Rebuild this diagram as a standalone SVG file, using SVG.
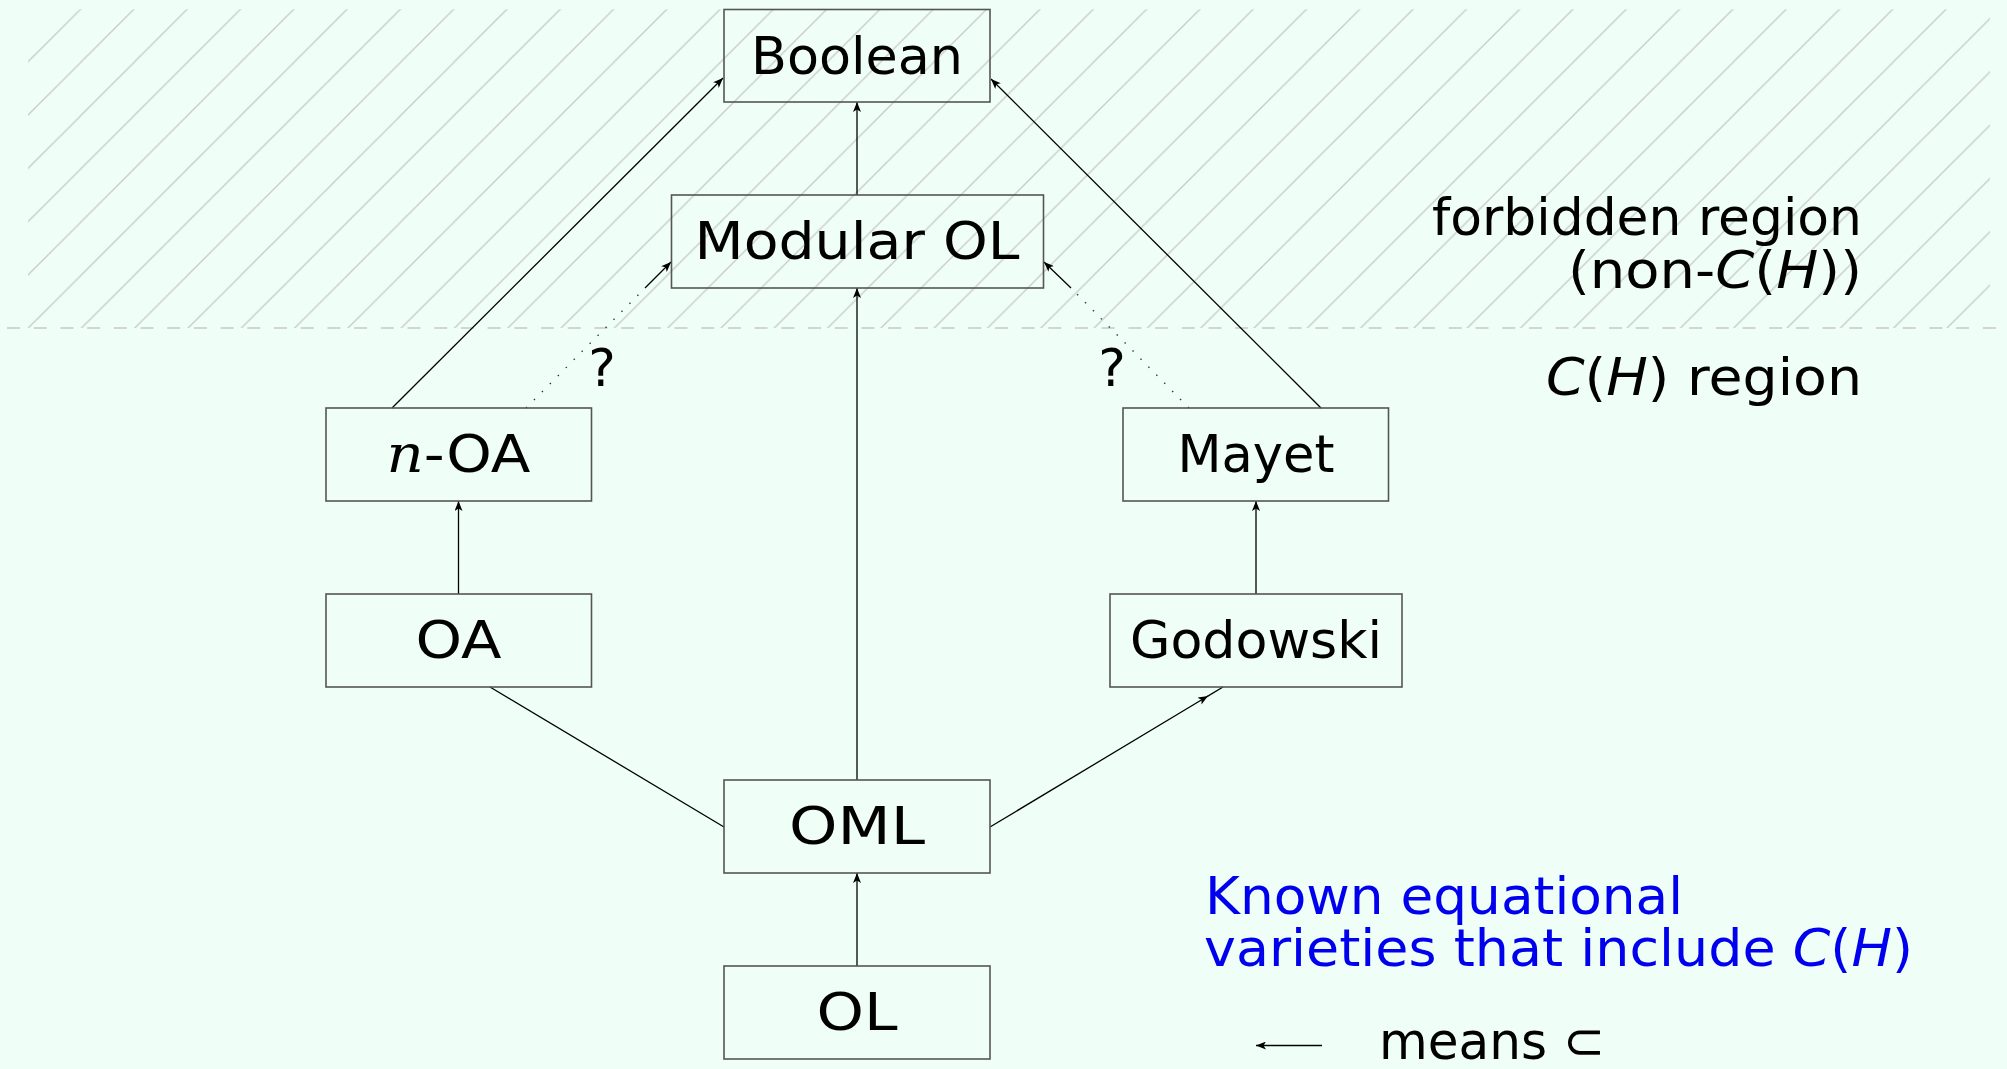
<svg xmlns="http://www.w3.org/2000/svg" width="2007" height="1069" viewBox="0 0 2007 1069">
<defs>
<pattern id="hatch" patternUnits="userSpaceOnUse" x="27.2" y="9.3" width="53.3" height="53.3">
<path d="M-10,10 L10,-10 M-10,63.3 L63.3,-10 M43.3,63.3 L63.3,43.3" stroke="#c8c8c8" stroke-width="1.3" fill="none"/>
</pattern>
<marker id="arr" viewBox="0 0 10 8" refX="10" refY="4" markerWidth="10" markerHeight="8" markerUnits="userSpaceOnUse" orient="auto">
<path d="M0,0 L10,4 L0,8 L2.5,4 Z" fill="#000"/>
</marker>
<style>
.box{fill:none;stroke:#555;stroke-width:1.6}
.lbl{font-family:"DejaVu Sans",sans-serif;font-size:52px;fill:#000;text-anchor:middle}
.side{font-family:"DejaVu Sans",sans-serif;font-size:52px;fill:#000}
.blue{fill:#0000ee}
.m{font-family:"DejaVu Serif","Liberation Serif",serif;font-style:italic}
.mi{font-style:italic}
.ln{stroke:#000;stroke-width:1.3;fill:none}
.dot{stroke:#333;stroke-width:1.4;fill:none;stroke-dasharray:1.4 9.9}
</style>
</defs>
<rect width="2007" height="1069" fill="#effff8"/>
<rect x="28" y="9.3" width="1962" height="318.7" fill="url(#hatch)"/>
<line x1="7" y1="328" x2="2000" y2="328" stroke="#c8c8c8" stroke-width="1.6" stroke-dasharray="13 13.7"/>

<g id="connectors">
<path class="ln" d="M857,195 L857,102" marker-end="url(#arr)"/>
<path class="ln" d="M857,780 L857,288" marker-end="url(#arr)"/>
<path class="ln" d="M857,966 L857,873" marker-end="url(#arr)"/>
<path class="ln" d="M458.5,594 L458.5,501" marker-end="url(#arr)"/>
<path class="ln" d="M1256,594 L1256,501" marker-end="url(#arr)"/>
<path class="ln" d="M392,408 L723,78" marker-end="url(#arr)"/>
<path class="ln" d="M1321,408 L991,79" marker-end="url(#arr)"/>
<path class="ln" d="M724,827 L490,687"/>
<path class="ln" d="M990,827 L1208,696" marker-end="url(#arr)"/>
<path class="ln" d="M1207,696.6 L1223,687"/>
<path class="dot" d="M526,408 L645,288"/>
<path class="ln" d="M645,288 L671,262" marker-end="url(#arr)"/>
<path class="dot" d="M1189,408 L1071,288"/>
<path class="ln" d="M1071,288 L1044,262" marker-end="url(#arr)"/>
<text class="lbl" x="602" y="386">?</text>
<text class="lbl" x="1112" y="386">?</text>
</g>

<g id="node-boolean">
<rect class="box" x="724" y="9.5" width="266" height="92.5"/>
<text class="lbl" x="857" y="74" textLength="212" lengthAdjust="spacingAndGlyphs">Boolean</text>
</g>
<g id="node-modular-ol">
<rect class="box" x="671.5" y="195" width="372" height="93"/>
<text class="lbl" x="857" y="259" textLength="325" lengthAdjust="spacingAndGlyphs">Modular OL</text>
</g>
<g id="node-n-oa">
<rect class="box" x="326" y="408" width="265.5" height="93"/>
<text class="lbl" x="458.5" y="472" textLength="144" lengthAdjust="spacingAndGlyphs"><tspan class="m">n</tspan>-OA</text>
</g>
<g id="node-oa">
<rect class="box" x="326" y="594" width="265.5" height="93"/>
<text class="lbl" x="458.5" y="658" textLength="86" lengthAdjust="spacingAndGlyphs">OA</text>
</g>
<g id="node-mayet">
<rect class="box" x="1123" y="408" width="265.5" height="93"/>
<text class="lbl" x="1256" y="472" textLength="157" lengthAdjust="spacingAndGlyphs">Mayet</text>
</g>
<g id="node-godowski">
<rect class="box" x="1110" y="594" width="292" height="93"/>
<text class="lbl" x="1256" y="658" textLength="252" lengthAdjust="spacingAndGlyphs">Godowski</text>
</g>
<g id="node-oml">
<rect class="box" x="724" y="780" width="266" height="93"/>
<text class="lbl" x="857" y="844" textLength="136" lengthAdjust="spacingAndGlyphs">OML</text>
</g>
<g id="node-ol">
<rect class="box" x="724" y="966" width="266" height="93"/>
<text class="lbl" x="857" y="1030" textLength="81" lengthAdjust="spacingAndGlyphs">OL</text>
</g>

<g id="legend">
<text class="side" x="1862" y="235" text-anchor="end" textLength="430" lengthAdjust="spacingAndGlyphs">forbidden region</text>
<text class="side" x="1862" y="288" text-anchor="end" textLength="294" lengthAdjust="spacingAndGlyphs">(non-<tspan class="mi">C</tspan>(<tspan class="mi">H</tspan>))</text>
<text class="side" x="1862" y="395" text-anchor="end" textLength="316" lengthAdjust="spacingAndGlyphs"><tspan class="mi">C</tspan>(<tspan class="mi">H</tspan>) region</text>
<text class="side blue" x="1205" y="914" textLength="478" lengthAdjust="spacingAndGlyphs">Known equational</text>
<text class="side blue" x="1204" y="966" textLength="709" lengthAdjust="spacingAndGlyphs">varieties that include <tspan class="mi">C</tspan>(<tspan class="mi">H</tspan>)</text>
<path class="ln" d="M1322,1045.5 L1256,1045.5" marker-end="url(#arr)"/>
<text class="side" x="1379" y="1059" textLength="226" lengthAdjust="spacingAndGlyphs">means ⊂</text>
</g>
</svg>
